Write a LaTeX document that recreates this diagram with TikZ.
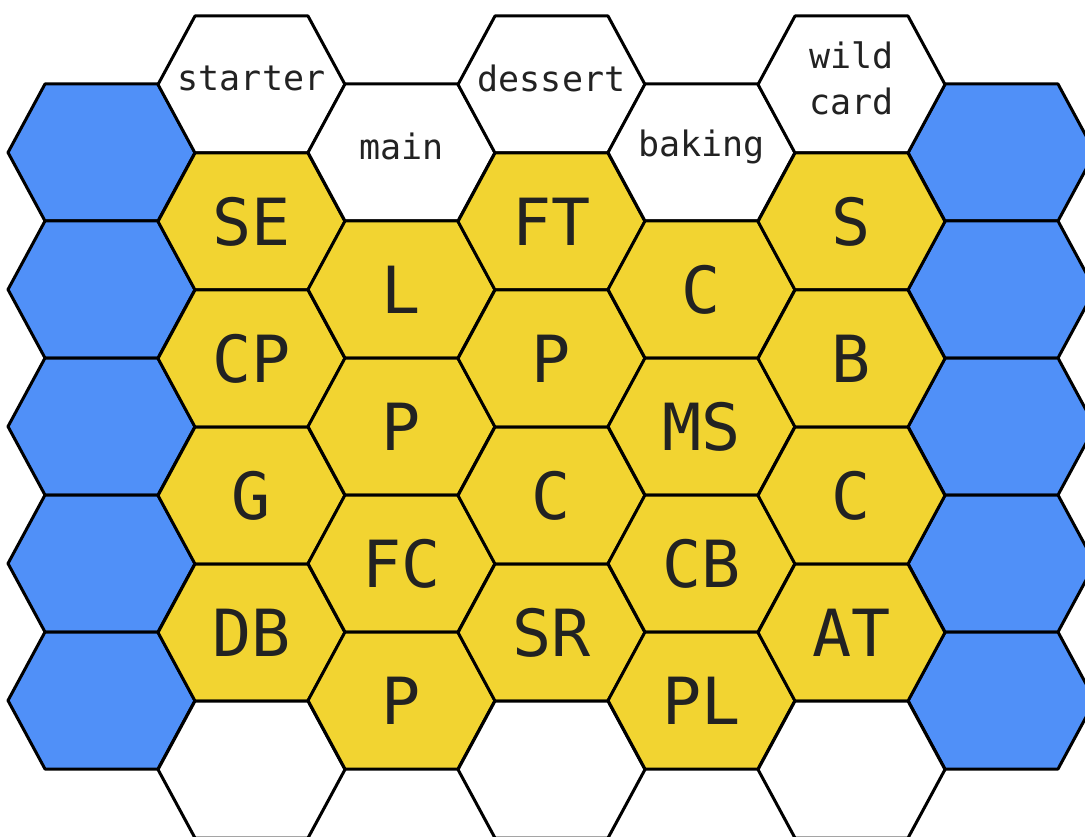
\documentclass[tikz,border=0pt]{standalone}
\usepackage{fontspec}
\newfontfamily\monofont{DejaVu Sans Mono}
\definecolor{hexblue}{RGB}{80,144,248}
\definecolor{hexyellow}{RGB}{242,212,49}
\definecolor{ink}{RGB}{34,34,34}
\tikzset{
  hexline/.style={draw=black, line width=3pt, line join=round},
  bluehex/.style={hexline, fill=hexblue},
  yellowhex/.style={hexline, fill=hexyellow},
  whitehex/.style={hexline, fill=white},
  biglabel/.style={text=ink, font=\monofont\fontsize{65}{65}\selectfont, inner sep=0pt},
  smalllabel/.style={text=ink, font=\monofont\fontsize{35}{46}\selectfont, align=center, inner sep=0pt, yshift=6pt}
}
% \hexcell{col}{row}{style}{name}{label style}{text}
\newcommand{\hexcell}[6]{%
  \pgfmathsetmacro{\hx}{101.5+150*#1}%
  \pgfmathsetmacro{\hy}{ifthenelse(mod(#1,2)==0,152.5,84.5)+137*#2}%
  \path[#3] (\hx-93.5,\hy) -- (\hx-56.5,\hy-68.5) -- (\hx+56.5,\hy-68.5)
     -- (\hx+93.5,\hy) -- (\hx+56.5,\hy+68.5) -- (\hx-56.5,\hy+68.5) -- cycle;
  \node[#5] (#4) at (\hx,\hy) {#6};%
}
\begin{document}
\begin{tikzpicture}[x=1pt,y=-1pt]
\useasboundingbox (0,0) rectangle (1085,837);
\fill[white] (0,0) rectangle (1085,837);
% column 0 (blue)
\foreach \r in {0,...,4} {\hexcell{0}{\r}{bluehex}{b0\r}{biglabel}{}}
% column 6 (blue)
\foreach \r in {0,...,4} {\hexcell{6}{\r}{bluehex}{b6\r}{biglabel}{}}
% column 1
\hexcell{1}{0}{whitehex}{starter}{smalllabel}{starter}
\hexcell{1}{1}{yellowhex}{se}{biglabel}{SE}
\hexcell{1}{2}{yellowhex}{cp}{biglabel}{CP}
\hexcell{1}{3}{yellowhex}{g}{biglabel}{G}
\hexcell{1}{4}{yellowhex}{db}{biglabel}{DB}
\hexcell{1}{5}{whitehex}{w1}{biglabel}{}
% column 2
\hexcell{2}{0}{whitehex}{main}{smalllabel}{main}
\hexcell{2}{1}{yellowhex}{l}{biglabel}{L}
\hexcell{2}{2}{yellowhex}{p1}{biglabel}{P}
\hexcell{2}{3}{yellowhex}{fc}{biglabel}{FC}
\hexcell{2}{4}{yellowhex}{p2}{biglabel}{P}
% column 3
\hexcell{3}{0}{whitehex}{dessert}{smalllabel}{dessert}
\hexcell{3}{1}{yellowhex}{ft}{biglabel}{FT}
\hexcell{3}{2}{yellowhex}{p3}{biglabel}{P}
\hexcell{3}{3}{yellowhex}{c1}{biglabel}{C}
\hexcell{3}{4}{yellowhex}{sr}{biglabel}{SR}
\hexcell{3}{5}{whitehex}{w3}{biglabel}{}
% column 4
\hexcell{4}{0}{whitehex}{baking}{smalllabel}{baking}
\hexcell{4}{1}{yellowhex}{c2}{biglabel}{C}
\hexcell{4}{2}{yellowhex}{ms}{biglabel}{MS}
\hexcell{4}{3}{yellowhex}{cb}{biglabel}{CB}
\hexcell{4}{4}{yellowhex}{pl}{biglabel}{PL}
% column 5
\hexcell{5}{0}{whitehex}{wild}{smalllabel}{wild\\card}
\hexcell{5}{1}{yellowhex}{s}{biglabel}{S}
\hexcell{5}{2}{yellowhex}{b}{biglabel}{B}
\hexcell{5}{3}{yellowhex}{c3}{biglabel}{C}
\hexcell{5}{4}{yellowhex}{at}{biglabel}{AT}
\hexcell{5}{5}{whitehex}{w5}{biglabel}{}
\end{tikzpicture}
\end{document}
